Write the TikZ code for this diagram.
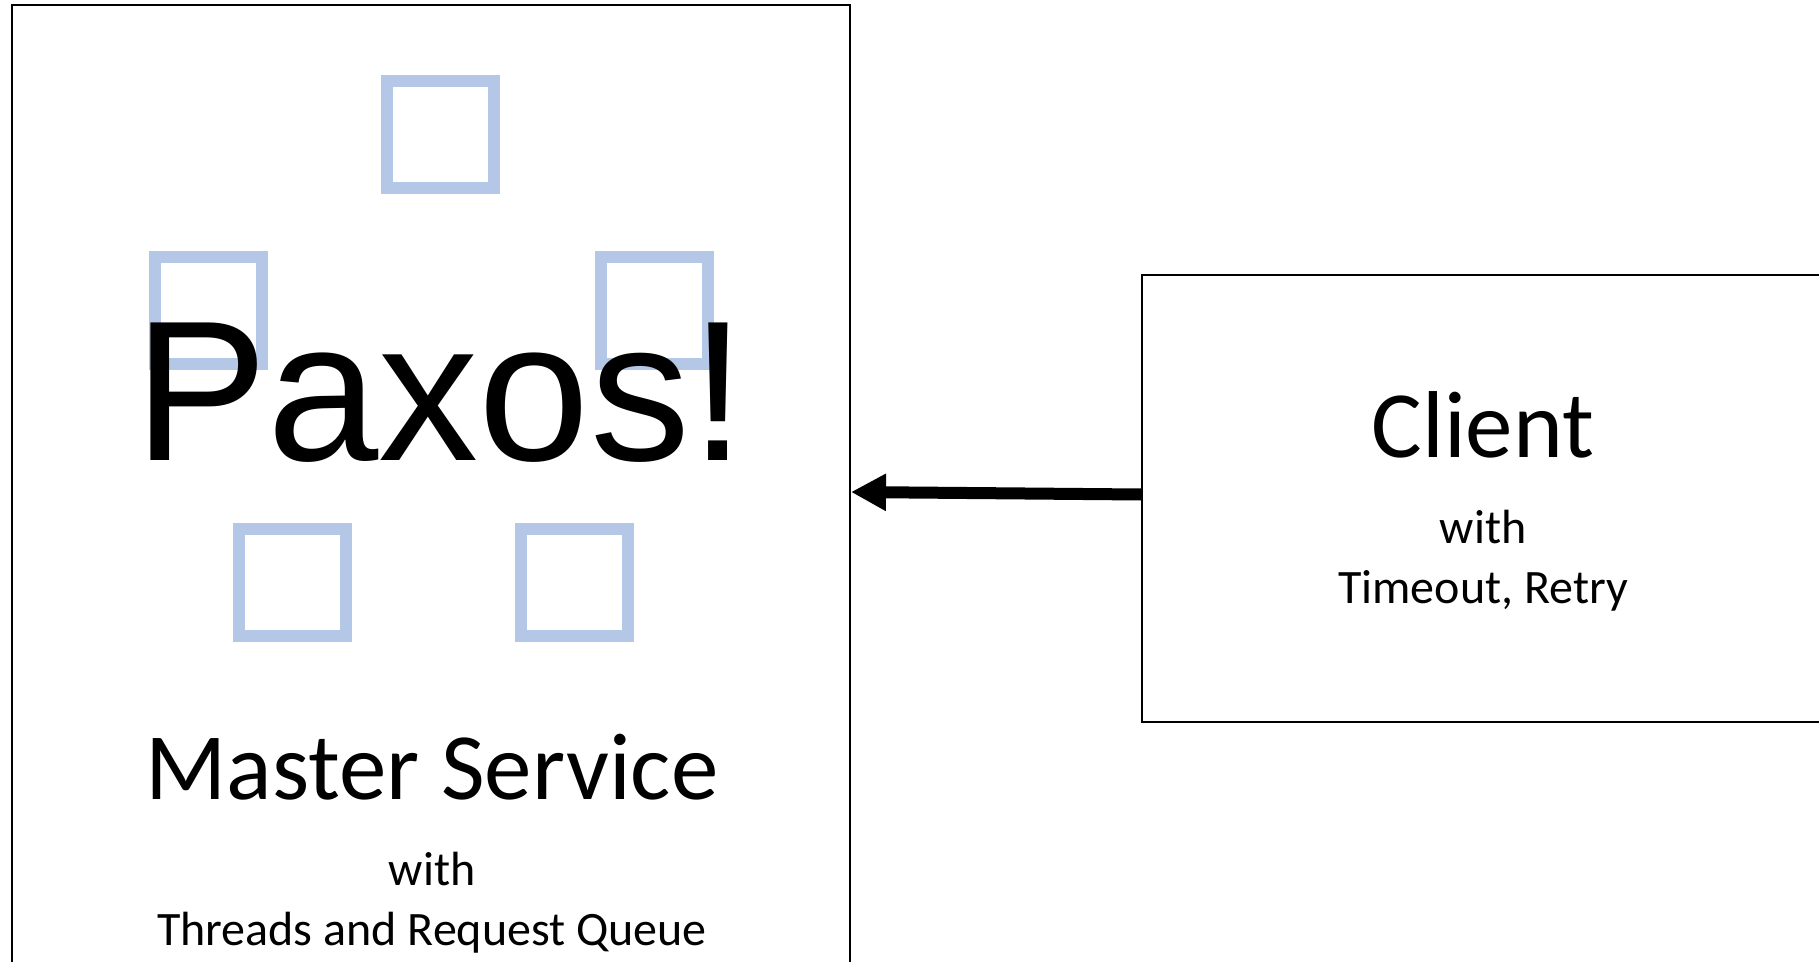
\documentclass[tikz,border=0pt]{standalone}
\usepackage{fontspec}
\setmainfont{Carlito}
\newfontfamily\paxosfont{Liberation Sans}
\usetikzlibrary{arrows.meta}
\definecolor{sqblue}{HTML}{B4C7E7}
\tikzset{
  box/.style={draw=black, line width=1pt, inner sep=0pt, fill=none},
  member/.style={draw=sqblue, line width=6pt, inner sep=0pt, minimum size=53.5pt},
  title/.style={font=\fontsize{47.5pt}{57pt}\selectfont, anchor=base, inner sep=0pt},
  sub/.style={font=\fontsize{24pt}{29pt}\selectfont, anchor=base, inner sep=0pt},
  big/.style={font=\paxosfont\fontsize{100pt}{120pt}\selectfont, anchor=base, inner sep=0pt},
  link/.style={line width=6pt, -{Triangle[length=17.5pt,width=17.5pt]}}
}
\begin{document}
\begin{tikzpicture}[x=0.5pt,y=-0.5pt]
  \useasboundingbox (0,0) rectangle (1819,962);
  % master service box (runs past the lower edge)
  \node[box, minimum width=419pt, minimum height=487pt] (master) at (431,492) {};
  % client box (runs past the right edge)
  \node[box, minimum width=341pt, minimum height=223.5pt] (client) at (1483,498.5) {};
  % replica squares
  \node[member] (s1) at (440.5,135) {};
  \node[member] (s2) at (208.5,310.5) {};
  \node[member] (s3) at (654,310.5) {};
  \node[member] (s4) at (292.5,582) {};
  \node[member] (s5) at (574.5,582) {};
  % texts
  \node[big] (paxos) at (440,460) {Paxos!};
  \node[title] (mtitle) at (432,799) {Master Service};
  \node[sub] (mwith) at (432,885) {with};
  \node[sub] (mdesc) at (432,945) {Threads and Request Queue};
  \node[title] (ctitle) at (1483,457) {Client};
  \node[sub] (cwith) at (1483,543) {with};
  \node[sub] (cdesc) at (1483,603) {Timeout, Retry};
  % request arrow
  \draw[link] ([yshift=2pt]client.west) -- (master.east);
\end{tikzpicture}
\end{document}
